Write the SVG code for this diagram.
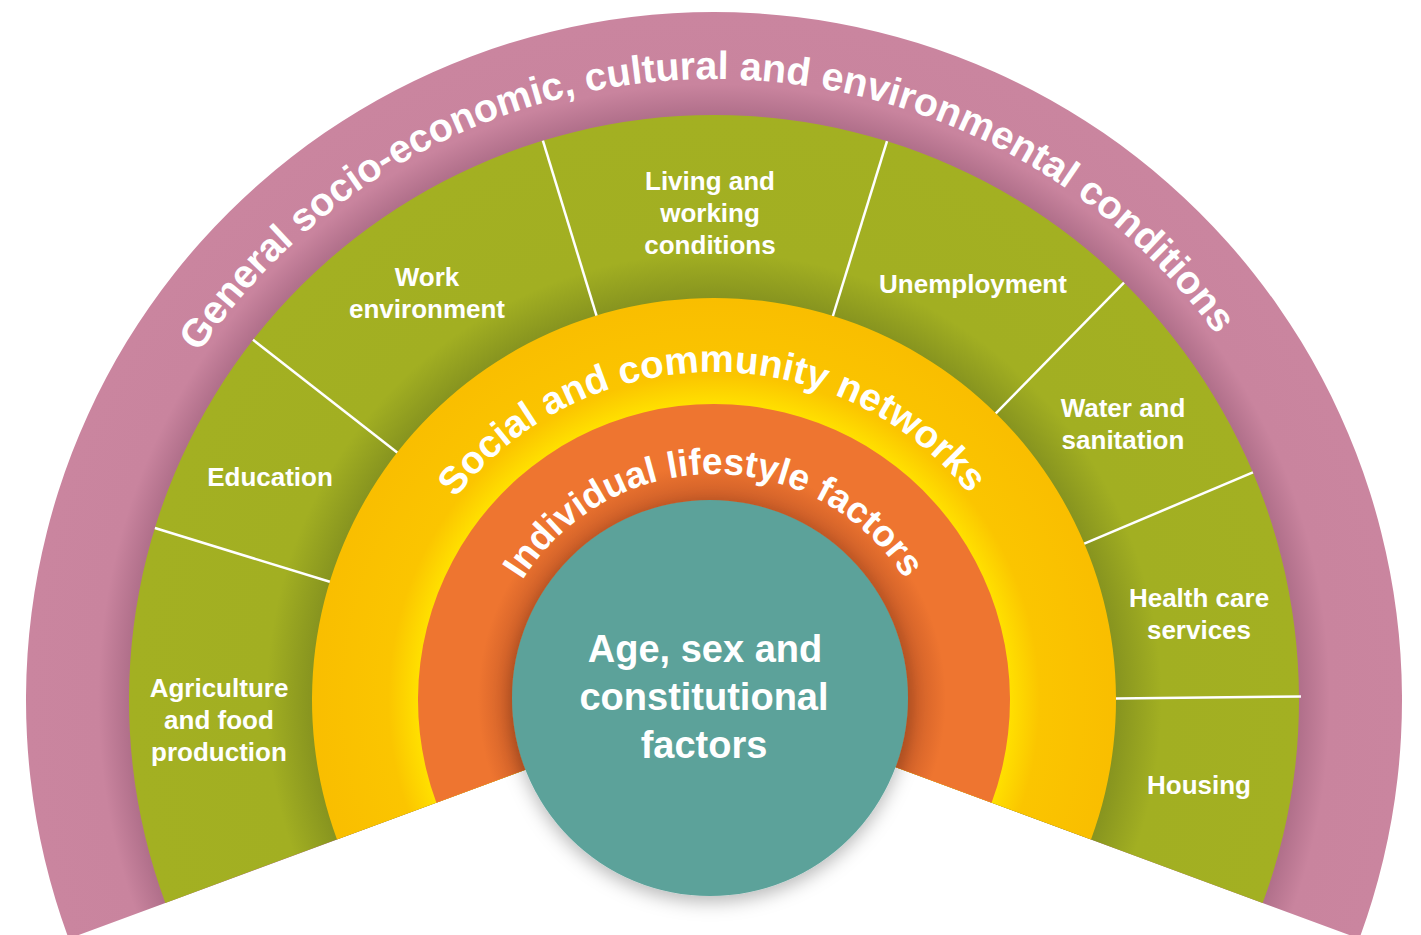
<svg xmlns="http://www.w3.org/2000/svg" xmlns:xlink="http://www.w3.org/1999/xlink" width="1421" height="935" viewBox="0 0 1421 935">
  <defs>
    <style>
      .lbl { font-family: "Liberation Sans", Arial, sans-serif; font-weight: 700; font-size: 26px; fill: #ffffff; text-anchor: middle; }
      .ctr { font-family: "Liberation Sans", Arial, sans-serif; font-weight: 700; font-size: 38px; fill: #ffffff; text-anchor: middle; }
      .arc { font-family: "Liberation Sans", Arial, sans-serif; font-weight: 700; fill: #ffffff; }
      .div { stroke: #ffffff; stroke-width: 2.5; fill: none; }
    </style>
    <radialGradient id="gPink" gradientUnits="userSpaceOnUse" cx="714" cy="700" r="688">
      <stop offset="0" stop-color="#b06f8a"/>
      <stop offset="0.850" stop-color="#b06f8a"/>
      <stop offset="0.895" stop-color="#c9849e"/>
      <stop offset="1" stop-color="#ca859f"/>
    </radialGradient>
    <radialGradient id="gGreen" gradientUnits="userSpaceOnUse" cx="714" cy="700" r="585">
      <stop offset="0" stop-color="#87941f"/>
      <stop offset="0.687" stop-color="#87941f"/>
      <stop offset="0.765" stop-color="#a2af22"/>
      <stop offset="1" stop-color="#a3b022"/>
    </radialGradient>
    <radialGradient id="gYellow" gradientUnits="userSpaceOnUse" cx="714" cy="700" r="402">
      <stop offset="0" stop-color="#ffe000"/>
      <stop offset="0.736" stop-color="#ffe000"/>
      <stop offset="0.81" stop-color="#fbc500"/>
      <stop offset="1" stop-color="#f9be00"/>
    </radialGradient>
    <radialGradient id="gOrange" gradientUnits="userSpaceOnUse" cx="712" cy="699" r="296">
      <stop offset="0" stop-color="#cf5f28"/>
      <stop offset="0.68" stop-color="#cf5f28"/>
      <stop offset="0.79" stop-color="#ee7530"/>
      <stop offset="1" stop-color="#ee7530"/>
    </radialGradient>
    <filter id="shadow" x="-30%" y="-30%" width="160%" height="160%">
      <feDropShadow dx="0" dy="6" stdDeviation="9" flood-color="#000000" flood-opacity="0.28"/>
    </filter>
    <path id="pOuter" d="M199.2,352.7 A621,621 0 0 1 1216.4,335.0"/>
    <path id="pSocial" d="M455.5,498.1 A328,328 0 0 1 968.9,493.6"/>
    <path id="pIndiv" d="M522.3,580.2 A226,226 0 0 1 903.5,576.9"/>
  </defs>

  <rect width="1421" height="935" fill="#ffffff"/>

  <g id="ring-general">
    <path d="M714,700 L68.7,938.7 A688,688 0 1 1 1359.3,938.7 Z" fill="url(#gPink)"/>
    <text class="arc" font-size="39.5"><textPath href="#pOuter" xlink:href="#pOuter" textLength="1192" lengthAdjust="spacing">General socio-economic, cultural and environmental conditions</textPath></text>
  </g>

  <g id="ring-living-working">
    <path d="M714,700 L165.3,902.9 A585,585 0 1 1 1262.7,902.9 Z" fill="url(#gGreen)"/>
  </g>

  <g id="ring-social">
    <path d="M714,700 L337.0,839.5 A402,402 0 1 1 1091.0,839.5 Z" fill="url(#gYellow)"/>
    <text class="arc" font-size="38.5"><textPath href="#pSocial" xlink:href="#pSocial" textLength="590" lengthAdjust="spacing">Social and community networks</textPath></text>
  </g>

  <g id="ring-individual">
    <path d="M714,700 L436.4,802.7 A296,296 0 1 1 991.6,802.7 Z" fill="url(#gOrange)"/>
    <text class="arc" font-size="37"><textPath href="#pIndiv" xlink:href="#pIndiv" textLength="456" lengthAdjust="spacing">Individual lifestyle factors</textPath></text>
  </g>

  <g id="dividers">
    <line class="div" x1="329.8" y1="581.8" x2="154.9" y2="528.0"/>
    <line class="div" x1="397.2" y1="452.5" x2="253.0" y2="339.8"/>
    <line class="div" x1="596.5" y1="315.6" x2="542.9" y2="140.6"/>
    <line class="div" x1="832.9" y1="316.0" x2="887.0" y2="141.1"/>
    <line class="div" x1="995.8" y1="413.3" x2="1124.0" y2="282.7"/>
    <line class="div" x1="1084.3" y1="543.6" x2="1252.9" y2="472.4"/>
    <line class="div" x1="1116" y1="698.5" x2="1301" y2="696.5"/>
  </g>

  <g id="node-agriculture">
    <text class="lbl" x="219" y="697">Agriculture</text>
    <text class="lbl" x="219" y="729">and food</text>
    <text class="lbl" x="219" y="761">production</text>
  </g>
  <g id="node-education">
    <text class="lbl" x="270" y="486">Education</text>
  </g>
  <g id="node-work">
    <text class="lbl" x="427" y="286">Work</text>
    <text class="lbl" x="427" y="318">environment</text>
  </g>
  <g id="node-living">
    <text class="lbl" x="710" y="190">Living and</text>
    <text class="lbl" x="710" y="222">working</text>
    <text class="lbl" x="710" y="254">conditions</text>
  </g>
  <g id="node-unemployment">
    <text class="lbl" x="973" y="293">Unemployment</text>
  </g>
  <g id="node-water">
    <text class="lbl" x="1123" y="417">Water and</text>
    <text class="lbl" x="1123" y="449">sanitation</text>
  </g>
  <g id="node-health">
    <text class="lbl" x="1199" y="607">Health care</text>
    <text class="lbl" x="1199" y="639">services</text>
  </g>
  <g id="node-housing">
    <text class="lbl" x="1199" y="794">Housing</text>
  </g>

  <g id="node-core">
    <circle cx="710" cy="698" r="198" fill="#5ba29a" filter="url(#shadow)"/>
    <text class="ctr" x="705" y="662">Age, sex and</text>
    <text class="ctr" x="704" y="710">constitutional</text>
    <text class="ctr" x="704" y="758">factors</text>
  </g>
</svg>
